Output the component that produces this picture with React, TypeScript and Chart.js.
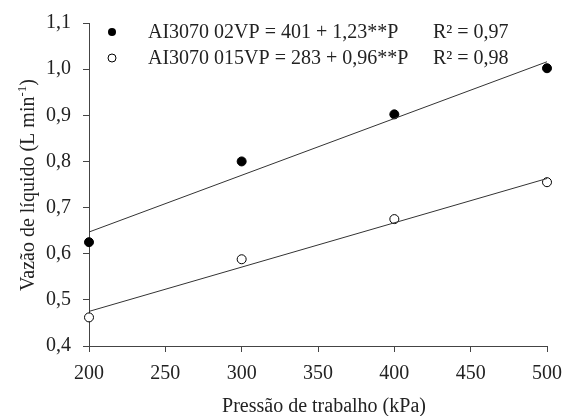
import React, { useEffect, useRef } from "react";
import { Chart, registerables } from "chart.js";

Chart.register(...registerables);

const pressures = [200, 300, 400, 500];
const flow02VP = [0.625, 0.8, 0.902, 1.002];
const flow015VP = [0.462, 0.588, 0.675, 0.755];
const fitPressures = [200, 500];
const fit02VP = [0.647, 1.016];
const fit015VP = [0.475, 0.763];
const legendEquations = ["AI3070 02VP = 401 + 1,23**P", "AI3070 015VP = 283 + 0,96**P"];
const legendR2 = ["R² = 0,97", "R² = 0,98"];
const xTitle = "Pressão de trabalho (kPa)";
const yTitleMain = "Vazão de líquido (L min";
const yTitleSup = "-1";
const yTitleEnd = ")";

const FONT = "'Liberation Serif', 'Times New Roman', serif";
const TEXT = "#222";

const overlayPlugin = {
  id: "overlay",
  afterDraw(chart: any) {
    const ctx = chart.ctx as CanvasRenderingContext2D;
    ctx.save();
    ctx.fillStyle = TEXT;
    ctx.font = `20px ${FONT}`;
    ctx.textBaseline = "alphabetic";
    const rows = [38, 64];
    for (let i = 0; i < 2; i++) {
      const cy = rows[i] - 6;
      ctx.beginPath();
      ctx.arc(112, cy, 4, 0, Math.PI * 2);
      if (i === 0) {
        ctx.fillStyle = "#000";
        ctx.fill();
      } else {
        ctx.fillStyle = "#fff";
        ctx.fill();
        ctx.strokeStyle = "#000";
        ctx.lineWidth = 1;
        ctx.stroke();
      }
      ctx.fillStyle = TEXT;
      ctx.textAlign = "left";
      ctx.fillText(legendEquations[i], 148, rows[i]);
      ctx.fillText(legendR2[i], 433, rows[i]);
    }
    ctx.textAlign = "center";
    ctx.fillText(xTitle, 324, 412);
    ctx.translate(34, 185);
    ctx.rotate(-Math.PI / 2);
    ctx.font = `20px ${FONT}`;
    const w1 = ctx.measureText(yTitleMain).width;
    const w3 = ctx.measureText(yTitleEnd).width;
    ctx.font = `13px ${FONT}`;
    const w2 = ctx.measureText(yTitleSup).width;
    const total = w1 + w2 + w3;
    let x = -total / 2;
    ctx.textAlign = "left";
    ctx.font = `20px ${FONT}`;
    ctx.fillText(yTitleMain, x, 0);
    x += w1;
    ctx.font = `13px ${FONT}`;
    ctx.fillText(yTitleSup, x, -8);
    x += w2;
    ctx.font = `20px ${FONT}`;
    ctx.fillText(yTitleEnd, x, 0);
    ctx.restore();
  },
};

export default function App() {
  const ref = useRef<HTMLCanvasElement | null>(null);
  useEffect(() => {
    document.body.style.margin = "0";
    const canvas = ref.current;
    if (!canvas) return;
    const chart = new Chart(canvas, {
      type: "scatter",
      data: {
        datasets: [
          {
            label: "fit02",
            data: fitPressures.map((p, i) => ({ x: p, y: fit02VP[i] })),
            showLine: true,
            borderColor: "#333",
            borderWidth: 1,
            pointRadius: 0,
            clip: false,
          },
          {
            label: "fit015",
            data: fitPressures.map((p, i) => ({ x: p, y: fit015VP[i] })),
            showLine: true,
            borderColor: "#333",
            borderWidth: 1,
            pointRadius: 0,
            clip: false,
          },
          {
            label: "02VP",
            data: pressures.map((p, i) => ({ x: p, y: flow02VP[i] })),
            pointRadius: 4.5,
            pointBackgroundColor: "#000",
            pointBorderColor: "#000",
            pointBorderWidth: 1,
            clip: false,
          },
          {
            label: "015VP",
            data: pressures.map((p, i) => ({ x: p, y: flow015VP[i] })),
            pointRadius: 4.5,
            pointBackgroundColor: "#fff",
            pointBorderColor: "#000",
            pointBorderWidth: 1,
            clip: false,
          },
        ],
      },
      options: {
        animation: false,
        responsive: false,
        maintainAspectRatio: false,
        layout: { padding: { top: 23, right: 19, left: 0, bottom: 0 } },
        plugins: { legend: { display: false }, tooltip: { enabled: false } },
        scales: {
          x: {
            type: "linear",
            min: 200,
            max: 500,
            ticks: {
              stepSize: 50,
              color: TEXT,
              font: { family: FONT, size: 20 },
              padding: 10,
              maxRotation: 0,
            },
            grid: { drawOnChartArea: false, drawTicks: true, tickLength: 6, color: "#444" },
            border: { display: true, color: "#444", width: 1 },
            afterFit: (s: any) => {
              s.height = 70;
              s.paddingRight = 0;
              s.paddingLeft = 0;
            },
          },
          y: {
            type: "linear",
            min: 0.4,
            max: 1.1,
            ticks: {
              stepSize: 0.1,
              color: TEXT,
              font: { family: FONT, size: 20 },
              padding: 12,
              callback: (v: any) => Number(v).toFixed(1).replace(".", ","),
            },
            grid: { drawOnChartArea: false, drawTicks: true, tickLength: 6, color: "#444" },
            border: { display: true, color: "#444", width: 1 },
            afterFit: (s: any) => {
              s.width = 89;
              s.paddingTop = 0;
              s.paddingBottom = 0;
            },
          },
        },
      },
      plugins: [overlayPlugin],
    });
    return () => chart.destroy();
  }, []);
  return (
    <div style={{ width: 566, height: 416 }}>
      <canvas ref={ref} width={566} height={416} style={{ display: "block" }} />
    </div>
  );
}
